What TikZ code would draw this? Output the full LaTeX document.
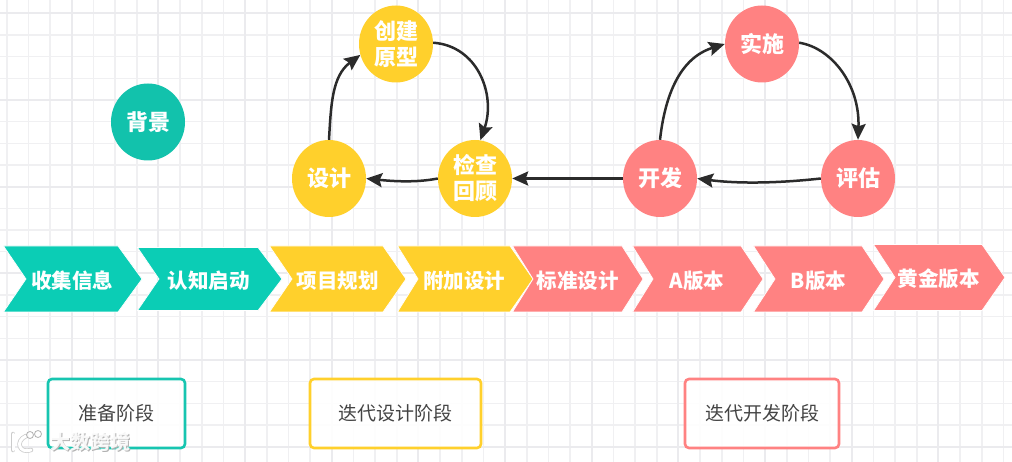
\documentclass[tikz,border=0pt]{standalone}
\usepackage{fontspec}
\setmainfont{Noto Sans CJK SC}
\usetikzlibrary{shapes.geometric,arrows.meta}
\definecolor{tealc}{HTML}{0BCDB5}
\definecolor{tealb}{HTML}{12C2AC}
\definecolor{yelc}{HTML}{FFD02C}
\definecolor{pinkc}{HTML}{FF8282}
\definecolor{gridmin}{HTML}{F0F0F2}
\definecolor{gridmaj}{HTML}{EBEBEE}
\definecolor{linec}{HTML}{2B2B2B}
\definecolor{txtc}{HTML}{444444}
\tikzset{
  x=1pt,y=-1pt,
  chevshape/.style={draw=white,line width=.7pt,line join=miter},
  chevtext/.style={inner sep=0pt,text=white,yshift=-1.5pt,font=\fontsize{20.5}{24}\selectfont\bfseries},
  stepcircle/.style={ellipse,inner sep=0pt,minimum width=74pt,minimum height=77pt,text=white,align=center,
     font=\fontsize{22}{26}\selectfont\bfseries},
  phasebox/.style={draw,line width=2.6pt,rounded corners=4pt,fill=white,fill opacity=.92,text opacity=1,inner sep=0pt,text=txtc,
     font=\fontsize{19}{24}\selectfont},
  flow/.style={draw=linec,line width=2.5pt,-{Stealth[length=16pt,width=14pt,inset=2.5pt]}},
  wmark/.style={inner sep=0pt,font=\fontsize{20}{24}\selectfont\bfseries},
}
% name, left, notch, shoulder, tip, top, bottom, colour, text
\newcommand{\chevron}[9]{%
  \path[chevshape,fill=#8] (#2,#6) -- (#4,#6) -- (#5,{(#6+#7)/2}) -- (#4,#7) -- (#2,#7) -- (#3,{(#6+#7)/2}) -- cycle;
  \node[chevtext] (#1) at ({(#3+#4)/2},{(#6+#7)/2}) {#9};%
}
\begin{document}
\begin{tikzpicture}
\useasboundingbox (0,0) rectangle (1012,462);
\fill[white] (0,0) rectangle (1012,462);
% grid
\foreach \k in {0,...,46} \draw[gridmin,line width=1.6pt] ({6.7+21.67*\k},0) -- ({6.7+21.67*\k},462);
\foreach \k in {0,...,21} \draw[gridmin,line width=1.6pt] (0,{13.3+21.67*\k}) -- (1012,{13.3+21.67*\k});
\foreach \k in {0,...,11} \draw[gridmaj,line width=2pt] ({71.7+86.67*\k},0) -- ({71.7+86.67*\k},462);
\foreach \k in {0,...,5} \draw[gridmaj,line width=2pt] (0,{13.3+86.67*\k}) -- (1012,{13.3+86.67*\k});
% chevrons
\chevron{a}{3.5}{26}{118}{142}{246}{312}{tealc}{收集信息}
\chevron{b}{137.5}{159}{258}{282}{247.5}{310.5}{tealc}{认知启动}
\chevron{c}{269.5}{292}{383}{406}{246}{312}{yelc}{项目规划}
\chevron{d}{397.5}{418}{510}{533}{246}{312}{yelc}{附加设计}
\chevron{e}{512.5}{533}{622}{643}{246}{312}{pinkc}{标准设计}
\chevron{f}{632.5}{653}{741}{763}{246}{312}{pinkc}{A版本}
\chevron{g}{753.5}{775}{862}{884}{246}{312}{pinkc}{B版本}
\chevron{h}{873.5}{895}{982}{1005}{244.5}{310.5}{pinkc}{黄金版本}
% circles
\node[stepcircle,fill=tealb] (bg) at (148,122) {背景};
\node[stepcircle,fill=yelc] (proto) at (396,44) {创建\\原型};
\node[stepcircle,fill=yelc] (design) at (329,178.5) {设计};
\node[stepcircle,fill=yelc] (review) at (475,178.5) {检查\\回顾};
\node[stepcircle,fill=pinkc] (dev) at (660,178.5) {开发};
\node[stepcircle,fill=pinkc] (eval) at (858,178.5) {评估};
\node[stepcircle,fill=pinkc] (impl) at (762,44) {实施};
% connectors
\draw[flow] (design.90) .. controls (331,105) and (332,76) .. (proto.197);
\draw[flow] (proto.2) .. controls (478,46) and (496,95) .. (review.82);
\draw[flow] (review.180) .. controls (420,182) and (400,182) .. (design.0);
\draw[flow] (dev.180) -- (review.0);
\draw[flow] (dev.90) .. controls (665,95) and (680,58) .. (impl.180);
\draw[flow] (impl.2) .. controls (832,48) and (860,85) .. (eval.90);
\draw[flow] (eval.180) .. controls (780,183) and (740,184) .. (dev.0);
% phase boxes
\node[phasebox,draw=tealc!90!gray,minimum width=137pt,minimum height=69pt] (p1) at (116.5,413.5) {准备阶段};
\node[phasebox,draw=yelc,minimum width=171pt,minimum height=69pt] (p2) at (395.5,413.5) {迭代设计阶段};
\node[phasebox,draw=pinkc,minimum width=154pt,minimum height=69pt] (p3) at (762,413.5) {迭代开发阶段};
% watermark
\node[wmark,text=gray!60,anchor=west] (wm0) at (51,442.8) {大数跨境};
\node[wmark,text=white,opacity=.9,anchor=west] (wm) at (50,442) {大数跨境};
\draw[gray!40,line width=4.5pt,line cap=round] (13,434) -- (13,450);
\draw[gray!40,line width=4.5pt,line cap=round] (26,436) .. controls (15,441) and (19,454) .. (31,450);
\draw[white,line width=3pt,line cap=round] (13,434) -- (13,450);
\draw[white,line width=3pt,line cap=round] (26,436) .. controls (15,441) and (19,454) .. (31,450);
\draw[gray!60,line width=.8pt,fill=white,fill opacity=.7] (30,435) circle (3.5);
\draw[gray!60,line width=.8pt,fill=white,fill opacity=.7] (38,434) circle (3.5);
\end{tikzpicture}
\end{document}
